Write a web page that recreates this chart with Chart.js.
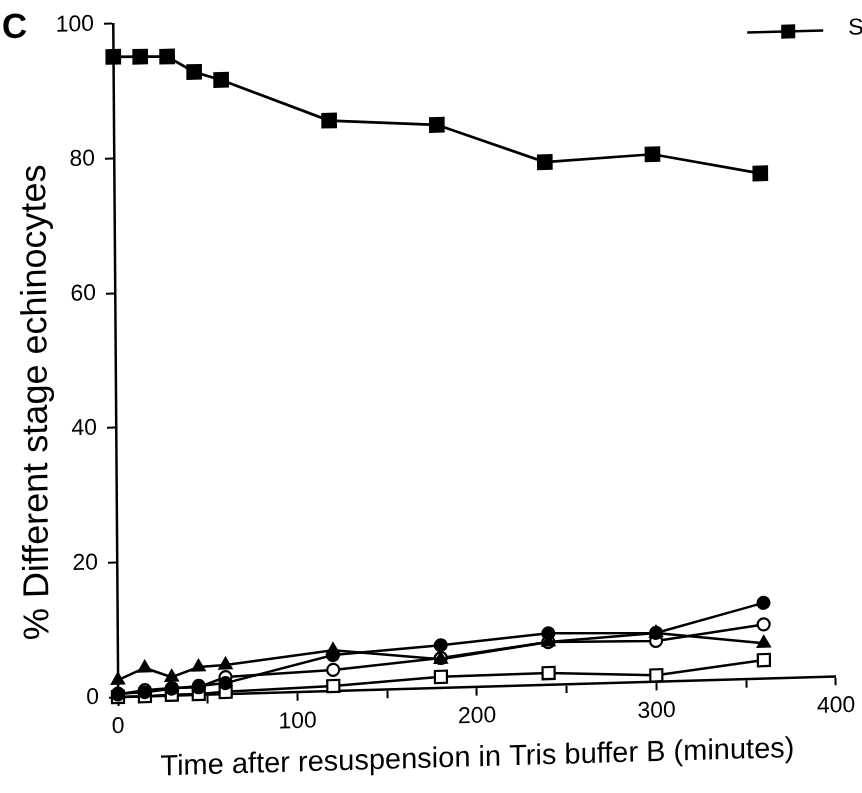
<!DOCTYPE html>
<html>
<head>
<meta charset="utf-8">
<script src="https://cdn.jsdelivr.net/npm/chart.js@4.4.1/dist/chart.umd.min.js"></script>
<style>
html,body{margin:0;padding:0;background:#fff;}
canvas{display:block;}
</style>
</head>
<body>
<canvas id="c" width="862" height="793"></canvas>
<script>
// ---- data ----
const times = [0, 15, 30, 45, 60, 120, 180, 240, 300, 360];
const stageS = [95.1, 95.0, 94.9, 92.5, 91.2, 84.7, 83.6, 77.6, 78.3, 75.0];
const filledCircle = [0.5, 0.6, 1.0, 1.3, 1.6, 5.3, 6.3, 7.6, 7.2, 11.2];
const triangle = [2.5, 4.2, 2.7, 4.1, 4.3, 6.0, 4.2, 6.3, 7.2, 5.2];
const openCircle = [0.4, 0.9, 1.1, 1.1, 2.5, 3.1, 4.4, 6.3, 6.0, 8.0];
const openSquare = [0.0, 0.0, 0.1, 0.1, 0.3, 0.7, 1.6, 1.7, 0.9, 2.7];
const xTickLabels = [0, 100, 200, 300, 400];
const yTickLabels = [0, 20, 40, 60, 80, 100];
const xTitleText = 'Time after resuspension in Tris buffer B (minutes)';
const yTitleText = '% Different stage echinocytes';
const legendLabel = 'S';
const panelLabel = 'C';

const FONT = "'Liberation Sans', Arial, Helvetica, sans-serif";
const SKEW_B = -0.029;   // scanned figure: x axis rises to the right
const SKEW_C = 0.0074;   // y axis leans slightly

function pts(vals) { return times.map((t, i) => ({ x: t, y: vals[i] })); }

const decor = {
  id: 'decor',
  beforeDraw(chart) {
    const { ctx, chartArea: a } = chart;
    ctx.save();
    ctx.translate(a.left, a.bottom);
    ctx.transform(1, SKEW_B, SKEW_C, 1, 0, 0);
    ctx.translate(-a.left, -a.bottom);
  },
  afterDraw(chart) {
    const { ctx } = chart;
    // y axis title
    ctx.save();
    ctx.fillStyle = '#000';
    ctx.font = '36px ' + FONT;
    ctx.textAlign = 'center';
    ctx.textBaseline = 'alphabetic';
    ctx.translate(49, 400);
    ctx.rotate(-Math.PI / 2);
    ctx.fillText(yTitleText, 0, 0);
    ctx.restore();
    // panel letter
    ctx.save();
    ctx.fillStyle = '#000';
    ctx.font = 'bold 35px ' + FONT;
    ctx.textAlign = 'center';
    ctx.textBaseline = 'alphabetic';
    ctx.fillText(panelLabel, 19.5, 35);
    ctx.restore();
    // legend (only first entry visible in the cropped figure)
    ctx.save();
    ctx.strokeStyle = '#000';
    ctx.lineWidth = 2.5;
    ctx.beginPath();
    ctx.moveTo(752, 51);
    ctx.lineTo(828, 51);
    ctx.stroke();
    ctx.fillStyle = '#000';
    ctx.fillRect(786, 44, 14, 14);
    ctx.font = '23px ' + FONT;
    ctx.textAlign = 'left';
    ctx.textBaseline = 'alphabetic';
    ctx.fillText(legendLabel, 853, 56);
    ctx.restore();
    ctx.restore(); // skew
  }
};

const baseLine = { borderColor: '#000', pointBorderColor: '#000', tension: 0, clip: false, fill: false };

new Chart(document.getElementById('c'), {
  type: 'line',
  data: {
    datasets: [
      Object.assign({}, baseLine, { label: legendLabel, data: pts(stageS), borderWidth: 2.7,
        pointStyle: 'rect', pointRadius: 10, pointBorderWidth: 1.5, pointBackgroundColor: '#000' }),
      Object.assign({}, baseLine, { label: 'filled circle', data: pts(filledCircle), borderWidth: 2.5,
        pointStyle: 'circle', pointRadius: 6.3, pointBorderWidth: 1.5, pointBackgroundColor: '#000' }),
      Object.assign({}, baseLine, { label: 'triangle', data: pts(triangle), borderWidth: 2.5,
        pointStyle: 'triangle', pointRadius: 7.5, pointBorderWidth: 1.5, pointBackgroundColor: '#000' }),
      Object.assign({}, baseLine, { label: 'open circle', data: pts(openCircle), borderWidth: 2.5,
        pointStyle: 'circle', pointRadius: 6, pointBorderWidth: 2.2, pointBackgroundColor: '#fff' }),
      Object.assign({}, baseLine, { label: 'open square', data: pts(openSquare), borderWidth: 2.5,
        pointStyle: 'rect', pointRadius: 8.5, pointBorderWidth: 2.2, pointBackgroundColor: '#fff' })
    ]
  },
  options: {
    responsive: false,
    animation: false,
    devicePixelRatio: 1,
    layout: { padding: { top: 22, right: 25, bottom: 0, left: 0 } },
    plugins: { legend: { display: false }, tooltip: { enabled: false } },
    scales: {
      x: {
        type: 'linear', min: 0, max: 400, position: 'bottom',
        border: { display: true, color: '#000', width: 2.5 },
        grid: { display: true, drawOnChartArea: false, drawTicks: true, tickLength: 9, color: '#000', tickWidth: 2 },
        ticks: { stepSize: 50, autoSkip: false, maxRotation: 0, padding: 7, color: '#000',
          font: { family: FONT, size: 23 },
          callback: (v) => xTickLabels.includes(v) ? String(v) : '' },
        title: { display: true, text: xTitleText, color: '#000', font: { family: FONT, size: 29 },
          padding: { top: 0, bottom: 7 } },
        afterFit(s) { s.height = 96; }
      },
      y: {
        type: 'linear', min: 0, max: 100, position: 'left',
        border: { display: true, color: '#000', width: 2.5 },
        grid: { display: true, drawOnChartArea: false, drawTicks: true, tickLength: 9, color: '#000', tickWidth: 2 },
        ticks: { stepSize: 20, padding: 10, color: '#000', font: { family: FONT, size: 23 },
          callback: (v) => yTickLabels.includes(v) ? String(v) : '' },
        afterFit(s) { s.width = 118; }
      }
    }
  },
  plugins: [decor]
});
</script>
</body>
</html>
